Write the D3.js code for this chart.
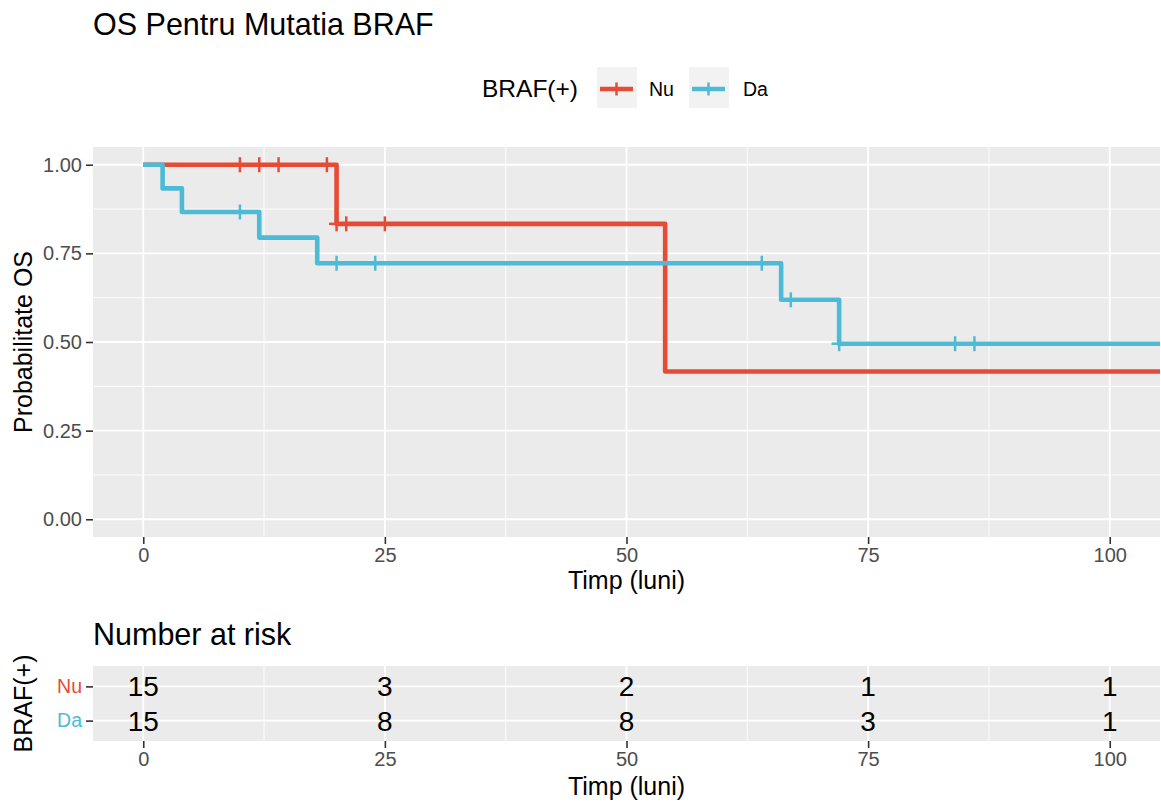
<!DOCTYPE html>
<html>
<head>
<meta charset="utf-8">
<script src="https://cdn.jsdelivr.net/npm/d3@7"></script>
<style>
  body { margin: 0; background: #fff; }
  svg { display: block; font-family: "Liberation Sans", Arial, Helvetica, sans-serif; }
</style>
</head>
<body>
<svg id="chart" width="1161" height="805"></svg>
<script>
// Kaplan-Meier step curves (time in months, survival probability)
const groups = ["Nu", "Da"];
const groupColors = ["#E64B35", "#4DBBD5"];

const nuStepTimes = [0, 20, 54];
const nuStepSurv  = [1, 0.8333, 0.4167];
const nuCensorTimes = [10, 12, 14, 19, 20, 21, 25];

const daStepTimes = [0, 2, 4, 12, 18, 66, 72];
const daStepSurv  = [1, 0.9333, 0.8667, 0.7944, 0.7222, 0.6190, 0.4952];
const daCensorTimes = [10, 20, 24, 64, 67, 72, 84, 86];

const followUpEnd = 106;

// Number at risk table
const riskTimes = [0, 25, 50, 75, 100];
const nuAtRisk = [15, 3, 2, 1, 1];
const daAtRisk = [15, 8, 8, 3, 1];

const xTicks = [0, 25, 50, 75, 100];
const yTicks = [0, 0.25, 0.5, 0.75, 1];
const yTickLabels = ["0.00", "0.25", "0.50", "0.75", "1.00"];

const svg = d3.select("#chart");
const panelBg = "#EBEBEB";
const tickGrey = "#4D4D4D";
const tickFont = 20;
const titleFont = 25;

// Layout of the survival panel
const P = { left: 93, right: 1160, top: 147, bottom: 537 };
const x = d3.scaleLinear().domain([-5.2, 105.2]).range([P.left, P.right]);
const y = d3.scaleLinear().domain([-0.05, 1.05]).range([P.bottom, P.top]);

// Panel background and grid
svg.append("rect").attr("x", P.left).attr("y", P.top)
  .attr("width", P.right - P.left).attr("height", P.bottom - P.top).attr("fill", panelBg);

svg.append("clipPath").attr("id", "panelClip")
  .append("rect").attr("x", P.left).attr("y", P.top)
  .attr("width", P.right - P.left).attr("height", P.bottom - P.top);

const grid = svg.append("g");
const xMinor = [12.5, 37.5, 62.5, 87.5];
const yMinor = [0.125, 0.375, 0.625, 0.875];
xMinor.forEach(v => grid.append("line").attr("x1", x(v)).attr("x2", x(v))
  .attr("y1", P.top).attr("y2", P.bottom).attr("stroke", "#fff").attr("stroke-width", 0.9));
yMinor.forEach(v => grid.append("line").attr("y1", y(v)).attr("y2", y(v))
  .attr("x1", P.left).attr("x2", P.right).attr("stroke", "#fff").attr("stroke-width", 0.9));
xTicks.forEach(v => grid.append("line").attr("x1", x(v)).attr("x2", x(v))
  .attr("y1", P.top).attr("y2", P.bottom).attr("stroke", "#fff").attr("stroke-width", 1.8));
yTicks.forEach(v => grid.append("line").attr("y1", y(v)).attr("y2", y(v))
  .attr("x1", P.left).attr("x2", P.right).attr("stroke", "#fff").attr("stroke-width", 1.8));

function styleAxis(a) {
  a.attr("font-family", null).attr("font-size", null);
  a.select(".domain").remove();
  a.selectAll(".tick line").attr("stroke", "#333").attr("stroke-width", 1.6);
  a.selectAll(".tick text").attr("fill", tickGrey).style("font-size", tickFont + "px");
}

// Axes
const yAxis = svg.append("g").attr("transform", `translate(${P.left},0)`)
  .call(d3.axisLeft(y).tickValues(yTicks).tickFormat((d, i) => yTickLabels[i]).tickSize(7).tickPadding(4));
const xAxis = svg.append("g").attr("transform", `translate(0,${P.bottom})`)
  .call(d3.axisBottom(x).tickValues(xTicks).tickSize(7).tickPadding(4));
styleAxis(yAxis);
styleAxis(xAxis);

// Axis titles
svg.append("text").attr("x", x(50)).attr("y", 589)
  .attr("text-anchor", "middle").style("font-size", titleFont + "px").text("Timp (luni)");
svg.append("text").attr("transform", `translate(32,${(P.top + P.bottom) / 2}) rotate(-90)`)
  .attr("text-anchor", "middle").style("font-size", titleFont + "px").text("Probabilitate OS");

// Title
svg.append("text").attr("x", 93).attr("y", 35).style("font-size", "30.5px").text("OS Pentru Mutatia BRAF");

// Survival curves
const curves = [
  { times: nuStepTimes, surv: nuStepSurv, censor: nuCensorTimes },
  { times: daStepTimes, surv: daStepSurv, censor: daCensorTimes }
];

function survAt(c, t) {
  let s = c.surv[0];
  c.times.forEach((tt, i) => { if (tt <= t) s = c.surv[i]; });
  return s;
}

const curveLayer = svg.append("g").attr("clip-path", "url(#panelClip)");
const line = d3.line().curve(d3.curveStepAfter).x(d => x(d[0])).y(d => y(d[1]));
curves.forEach((c, gi) => {
  const pts = c.times.map((t, i) => [t, c.surv[i]]);
  pts.push([followUpEnd, c.surv[c.surv.length - 1]]);
  curveLayer.append("path").datum(pts).attr("d", line)
    .attr("fill", "none").attr("stroke", groupColors[gi]).attr("stroke-width", 4.6)
    .attr("stroke-linejoin", "round").attr("stroke-linecap", "butt");
  const h = 7.5;
  c.censor.forEach(t => {
    const cx = x(t), cy = y(survAt(c, t));
    curveLayer.append("line").attr("x1", cx).attr("x2", cx).attr("y1", cy - h).attr("y2", cy + h)
      .attr("stroke", groupColors[gi]).attr("stroke-width", 2.5);
    curveLayer.append("line").attr("x1", cx - h).attr("x2", cx + h).attr("y1", cy).attr("y2", cy)
      .attr("stroke", groupColors[gi]).attr("stroke-width", 2.5);
  });
});

// Legend
const legend = svg.append("g");
legend.append("text").attr("x", 482).attr("y", 97).style("font-size", "24.5px").text("BRAF(+)");
const keyX = [597, 689];
const labelX = [649, 743];
groups.forEach((g, i) => {
  const kx = keyX[i], ky = 67;
  legend.append("rect").attr("x", kx).attr("y", ky).attr("width", 40).attr("height", 41).attr("fill", "#F2F2F2");
  legend.append("line").attr("x1", kx + 3).attr("x2", kx + 36).attr("y1", ky + 22).attr("y2", ky + 22)
    .attr("stroke", groupColors[i]).attr("stroke-width", 4.6);
  legend.append("line").attr("x1", kx + 19.5).attr("x2", kx + 19.5).attr("y1", ky + 15.5).attr("y2", ky + 28.5)
    .attr("stroke", groupColors[i]).attr("stroke-width", 2.5);
  legend.append("text").attr("x", labelX[i]).attr("y", 96).style("font-size", "19.5px").text(g);
});

// Number at risk table
const T = { top: 666, bottom: 741 };
const yr = d3.scalePoint().domain(groups).range([T.top + 0.6 * 34, T.bottom - 0.6 * 34]);

svg.append("text").attr("x", 93).attr("y", 645).style("font-size", "30.5px").text("Number at risk");
svg.append("rect").attr("x", P.left).attr("y", T.top)
  .attr("width", P.right - P.left).attr("height", T.bottom - T.top).attr("fill", panelBg);
const tgrid = svg.append("g");
xMinor.forEach(v => tgrid.append("line").attr("x1", x(v)).attr("x2", x(v))
  .attr("y1", T.top).attr("y2", T.bottom).attr("stroke", "#fff").attr("stroke-width", 0.9));
xTicks.forEach(v => tgrid.append("line").attr("x1", x(v)).attr("x2", x(v))
  .attr("y1", T.top).attr("y2", T.bottom).attr("stroke", "#fff").attr("stroke-width", 1.8));
groups.forEach(g => tgrid.append("line").attr("y1", yr(g)).attr("y2", yr(g))
  .attr("x1", P.left).attr("x2", P.right).attr("stroke", "#fff").attr("stroke-width", 1.8));

const riskRows = [nuAtRisk, daAtRisk];
groups.forEach((g, gi) => {
  riskTimes.forEach((t, i) => {
    svg.append("text").attr("x", x(t)).attr("y", yr(g)).attr("dy", "0.36em")
      .attr("text-anchor", "middle").style("font-size", "28px").attr("fill", "#000").text(riskRows[gi][i]);
  });
});

const ryAxis = svg.append("g").attr("transform", `translate(${P.left},0)`)
  .call(d3.axisLeft(yr).tickSize(7).tickPadding(4));
const rxAxis = svg.append("g").attr("transform", `translate(0,${T.bottom})`)
  .call(d3.axisBottom(x).tickValues(xTicks).tickSize(7).tickPadding(4));
styleAxis(ryAxis);
styleAxis(rxAxis);
ryAxis.selectAll(".tick text").attr("fill", (d, i) => groupColors[i]).style("font-size", "19.5px");

svg.append("text").attr("x", x(50)).attr("y", 795)
  .attr("text-anchor", "middle").style("font-size", titleFont + "px").text("Timp (luni)");
svg.append("text").attr("transform", `translate(32,${(T.top + T.bottom) / 2}) rotate(-90)`)
  .attr("text-anchor", "middle").style("font-size", titleFont + "px").text("BRAF(+)");
</script>
</body>
</html>
